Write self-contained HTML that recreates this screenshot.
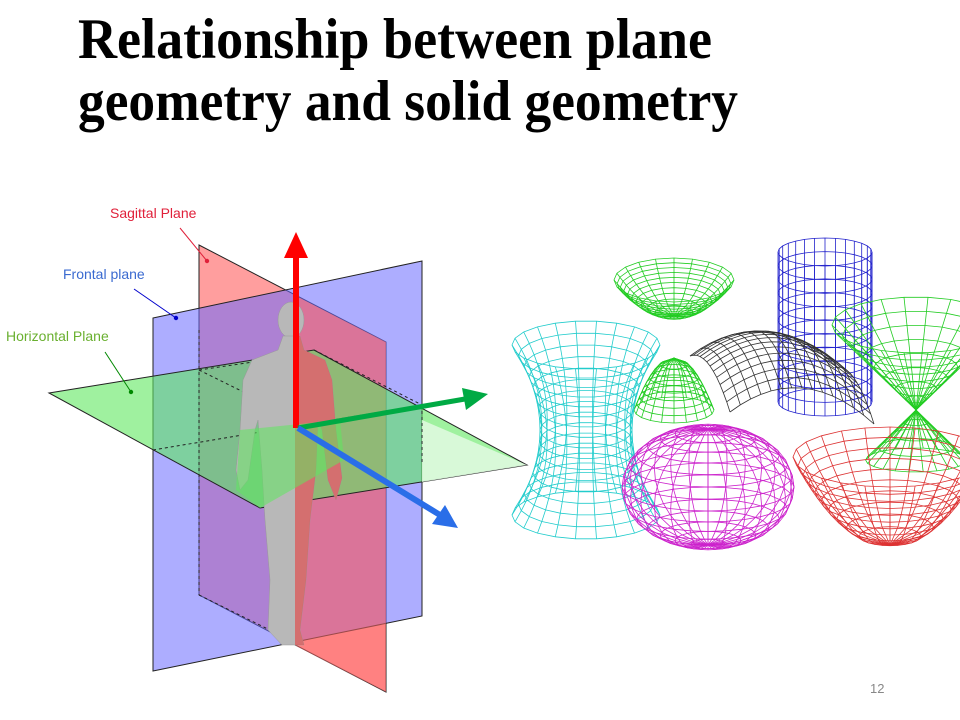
<!DOCTYPE html>
<html><head><meta charset="utf-8"><style>
html,body{margin:0;padding:0;background:#fff;width:960px;height:720px;overflow:hidden}
svg{display:block}
</style></head><body>
<svg id="s" width="960" height="720" viewBox="0 0 960 720" xmlns="http://www.w3.org/2000/svg">
<text x="78" y="58" font-family="Liberation Serif, serif" font-weight="bold" font-size="50" textLength="634" lengthAdjust="spacingAndGlyphs" transform="translate(0,58) scale(1,1.15) translate(0,-58)" fill="#000">Relationship between plane</text>
<text x="78" y="120" font-family="Liberation Serif, serif" font-weight="bold" font-size="50" textLength="660" lengthAdjust="spacingAndGlyphs" transform="translate(0,120) scale(1,1.15) translate(0,-120)" fill="#000">geometry and solid geometry</text>

<!-- planes -->
<polygon points="199,245 386,342 386,692 199,595" fill="#ff6a6a" fill-opacity="0.65" stroke="#222" stroke-width="1"/>
<polygon points="153,318 422,261 422,616 153,671" fill="#6a6aff" fill-opacity="0.55" stroke="#222" stroke-width="1"/>
<polygon points="296,296 386,342 386,692 296,646" fill="#ff6a6a" fill-opacity="0.55"/>
<polygon points="49,393 314,350 527,465 260,508" fill="#5fe85f" fill-opacity="0.6" stroke="#222" stroke-width="1"/>
<polygon points="422,420 527,465 422,482" fill="#e6fbe6" fill-opacity="0.8"/>
<g stroke="#222" stroke-dasharray="3,3" fill="none" stroke-width="1">
<line x1="199" y1="330" x2="199" y2="595"/><line x1="199" y1="595" x2="290" y2="640"/>
<line x1="153" y1="450" x2="422" y2="405"/><line x1="199" y1="370" x2="260" y2="361"/>
<line x1="314" y1="350" x2="422" y2="405"/><line x1="422" y1="405" x2="422" y2="465"/>
<line x1="199" y1="370" x2="300" y2="420"/>
</g>
<!-- human -->
<g fill="#b8b8b8" stroke="#999" stroke-width="0.5">
<ellipse cx="291" cy="320" rx="13" ry="18"/>
<path d="M283,336 L300,336 L304,350 L325,360 L332,380 L336,430 L342,478 L336,500 L328,480 L322,430 L318,420 L316,470 L310,520 L306,580 L300,630 L304,645 L282,645 L268,630 L270,580 L265,520 L262,470 L258,420 L255,430 L248,480 L240,490 L236,470 L240,430 L243,380 L252,360 L278,350 Z"/>
</g>
<path d="M295,336 L300,336 L304,350 L325,360 L332,380 L336,430 L342,478 L336,500 L328,480 L322,430 L318,420 L316,470 L310,520 L306,580 L300,630 L304,645 L295,645 Z" fill="#e05050" fill-opacity="0.7"/>
<polygon points="240,430 340,420 344,460 260,508 236,490" fill="#5fe85f" fill-opacity="0.55"/>
<!-- arrows -->
<line x1="296" y1="428" x2="296" y2="258" stroke="#f00" stroke-width="6"/>
<polygon points="284,258 308,258 296,232" fill="#f00"/>
<line x1="298" y1="428" x2="465" y2="399" stroke="#0a4" stroke-width="5"/>
<polygon points="462,388 488,394 466,410" fill="#0a4"/>
<line x1="298" y1="428" x2="440" y2="515" stroke="#2a6ee8" stroke-width="6"/>
<polygon points="445,505 458,528 432,524" fill="#2a6ee8"/>
<!-- labels -->
<g font-family="Liberation Sans, sans-serif" font-size="14">
<text x="110" y="218" fill="#e0203a">Sagittal Plane</text>
<text x="63" y="279" fill="#3a6ad0">Frontal plane</text>
<text x="6" y="341" fill="#6ab030">Horizontal Plane</text>
</g>
<line x1="180" y1="228" x2="207" y2="261" stroke="#e0203a"/><circle cx="207" cy="261" r="2.2" fill="#e0203a"/>
<line x1="134" y1="289" x2="176" y2="318" stroke="#00c"/><circle cx="176" cy="318" r="2.2" fill="#00c"/>
<line x1="105" y1="352" x2="131" y2="392" stroke="#080"/><circle cx="131" cy="392" r="2.2" fill="#080"/>
<g id="wf" fill="none" stroke-width="0.8"></g>
<text x="870" y="693" font-family="Liberation Sans, sans-serif" font-size="13" fill="#888">12</text>
</svg>
<script>
var g=document.getElementById('wf'),out='';
function surf(col,rows,cols,f){
 var P=[];for(var i=0;i<=rows;i++){P.push([]);for(var j=0;j<=cols;j++){P[i].push(f(i/rows,j/cols));}}
 for(var i=0;i<=rows;i++){out+='<polyline stroke="'+col+'" points="'+P[i].map(function(p){return p[0].toFixed(1)+','+p[1].toFixed(1)}).join(' ')+'"/>';}
 for(var j=0;j<=cols;j++){var s=[];for(var i=0;i<=rows;i++)s.push(P[i][j][0].toFixed(1)+','+P[i][j][1].toFixed(1));out+='<polyline stroke="'+col+'" points="'+s.join(' ')+'"/>';}
}
var T=2*Math.PI;
surf('#22cc22',10,20,function(v,u){var r=Math.sqrt(v);var y=280+36*(1-v);return[674+60*r*Math.cos(u*T),y+22*r*Math.sin(u*T)]});
surf('#2222cc',11,28,function(v,u){return[825+47*Math.cos(u*T),252+150*v+14*Math.sin(u*T)]});
surf('#22cc22',8,20,function(v,u){var r=Math.sqrt(v);return[674+40*r*Math.cos(u*T),358+52*v+13*r*Math.sin(u*T)]});
var sad='';
(function(){var o=out;out='';
surf('#333',12,14,function(v,u){var a=u*2-1,b=v*2-1;return[782+72*a+20*b,372+28*b+6*a-30*(1-a*a)+18*b*b]});
sad=out;out=o;})();
surf('#22cccc',16,22,function(v,u){var t=v*2-1;var r=46+28*t*t;return[586+r*Math.cos(u*T),345+170*v+(18+6*t*t)*Math.sin(u*T)]});
surf('#22cc22',8,22,function(v,u){var r=1-v;return[916+84*r*Math.cos(u*T),325+85*v+28*r*Math.sin(u*T)]});
surf('#22cc22',4,22,function(v,u){var r=v*0.6;return[916+84*r*Math.cos(u*T),410+50*v+20*r*Math.sin(u*T)]});
out+='<g>'+sad+'</g>';
surf('#cc22cc',16,28,function(v,u){var ph=(v-0.5)*Math.PI;var c=Math.cos(ph);return[708+86*c*Math.cos(u*T),495+58*Math.sin(ph)+24*c*Math.sin(u*T)-8]});
surf('#dd3333',10,24,function(v,u){var r=Math.sqrt(1-v);return[890+97*r*Math.cos(u*T),457+88*v+30*r*Math.sin(u*T)]});
g.innerHTML=out;
</script>
</body></html>
